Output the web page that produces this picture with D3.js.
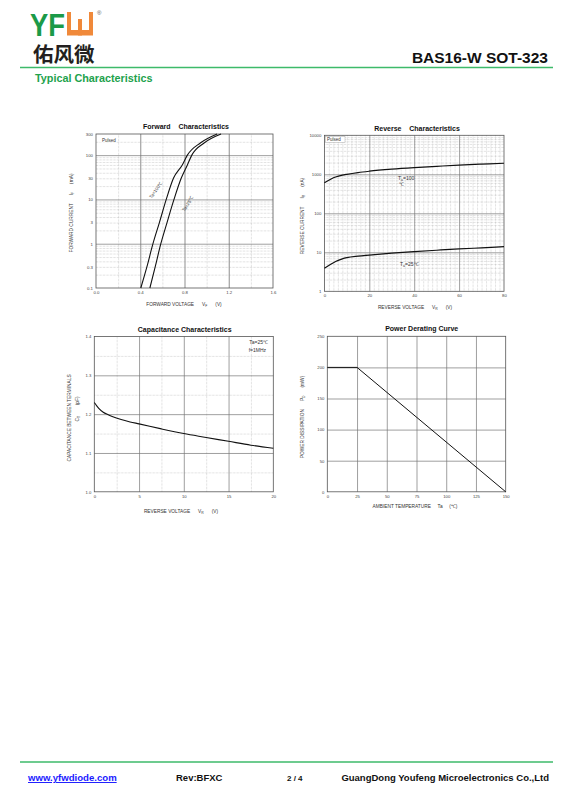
<!DOCTYPE html>
<html lang="en">
<head>
<meta charset="UTF-8" />
<script src="https://d3js.org/d3.v7.min.js"></script>
<title>BAS16-W SOT-323</title>
<style>
body { margin: 0; background: #fff; }
text { font-family: "Liberation Sans", Arial, sans-serif; }
</style>
</head>
<body>
<script>
var width = 570, height = 805;

// forward characteristics: VF (V) vs IF (mA)
var fwdVolt100 = [0.405, 0.46, 0.515, 0.573, 0.635, 0.70, 0.78, 0.826, 0.946, 1.095];
var fwdCurr100 = [0.1, 0.3, 1, 3, 10, 30, 60, 100, 190, 300];
var fwdVolt25 = [0.487, 0.535, 0.586, 0.642, 0.705, 0.77, 0.826, 0.866, 0.98, 1.13];
var fwdCurr25 = [0.1, 0.3, 1, 3, 10, 30, 60, 100, 190, 300];
var fwdXTicks = [0, 0.4, 0.8, 1.2, 1.6];
var fwdYTicks = [0.1, 0.3, 1, 3, 10, 30, 100, 300];

// reverse characteristics: VR (V) vs IR (nA)
var revVolt = [0, 3, 5, 8, 10, 15, 20, 30, 40, 50, 60, 70, 80];
var revCurr100 = [610, 760, 850, 950, 1000, 1110, 1200, 1350, 1480, 1600, 1720, 1820, 1920];
var revCurr25 = [3.9, 5.0, 5.8, 6.8, 7.3, 8.0, 8.5, 9.5, 10.4, 11.3, 12.2, 13.0, 13.9];
var revXTicks = [0, 20, 40, 60, 80];
var revYTicks = [1, 10, 100, 1000, 10000];

// capacitance: VR (V) vs CT (pF)
var capVolt = [0, 0.25, 0.5, 1, 1.5, 2, 3, 4, 5, 7.5, 10, 12.5, 15, 17.5, 20];
var capVal = [1.23, 1.222, 1.215, 1.205, 1.199, 1.194, 1.186, 1.18, 1.175, 1.162, 1.15, 1.14, 1.13, 1.12, 1.112];
var capXTicks = [0, 5, 10, 15, 20];
var capYTicks = [1.0, 1.1, 1.2, 1.3, 1.4];

// power derating: Ta (C) vs PD (mW)
var pwrTemp = [0, 25, 150];
var pwrVal = [200, 200, 0];
var pwrXTicks = [0, 25, 50, 75, 100, 125, 150];
var pwrYTicks = [0, 50, 100, 150, 200, 250];

var FONT = "Liberation Sans, Arial, sans-serif";
var svg = d3.select("body").append("svg").attr("width", width).attr("height", height).style("display", "block");
svg.append("rect").attr("width", width).attr("height", height).attr("fill", "#fff");

// ---------- header ----------
var green = "#22a24c";
svg.append("text").attr("x", 30).attr("y", 35.5).attr("font-size", 32).attr("font-weight", "bold")
  .attr("fill", "#1b9a48").attr("textLength", 35).attr("lengthAdjust", "spacingAndGlyphs").text("YF");
svg.append("rect").attr("x", 67).attr("y", 12).attr("width", 26).attr("height", 23.5).attr("fill", "#f0893a");
svg.append("rect").attr("x", 71).attr("y", 12).attr("width", 18).attr("height", 18).attr("fill", "#fff");
svg.append("rect").attr("x", 78).attr("y", 19).attr("width", 4).attr("height", 16.5).attr("fill", "#f0893a");
svg.append("text").attr("x", 97).attr("y", 15).attr("font-size", 6).attr("fill", "#555").text("\u00ae");
svg.append("text").attr("x", 33).attr("y", 61.5).attr("font-size", 20.5).attr("font-weight", "bold")
  .style("font-family", "'Noto Sans CJK SC', sans-serif").attr("fill", "#231f20").text("佑风微");
svg.append("text").attr("x", 548).attr("y", 63).attr("text-anchor", "end").attr("font-size", 15.5)
  .attr("font-weight", "bold").attr("fill", "#111").text("BAS16-W SOT-323");
svg.append("line").attr("x1", 20).attr("x2", 553).attr("y1", 67.5).attr("y2", 67.5)
  .attr("stroke", "#3dba6a").attr("stroke-width", 1.5);
svg.append("text").attr("x", 35).attr("y", 82).attr("font-size", 10.8).attr("font-weight", "bold")
  .attr("fill", green).text("Typical Characteristics");

// ---------- footer ----------
svg.append("line").attr("x1", 20).attr("x2", 553).attr("y1", 762).attr("y2", 762)
  .attr("stroke", "#3dba6a").attr("stroke-width", 1.5);
svg.append("text").attr("x", 28).attr("y", 781).attr("font-size", 9.6).attr("font-weight", "bold")
  .attr("fill", "#1a1aff").attr("text-decoration", "underline").text("www.yfwdiode.com");
svg.append("text").attr("x", 176).attr("y", 781).attr("font-size", 9.5).attr("font-weight", "bold")
  .attr("fill", "#111").text("Rev:BFXC");
svg.append("text").attr("x", 287).attr("y", 781).attr("font-size", 8).attr("font-weight", "bold")
  .attr("fill", "#111").text("2 / 4");
svg.append("text").attr("x", 549).attr("y", 781).attr("text-anchor", "end").attr("font-size", 9.5)
  .attr("font-weight", "bold").attr("fill", "#111").text("GuangDong Youfeng Microelectronics Co.,Ltd");

// ---------- helpers ----------
function grid(g, x, y, vals, horizontal, style) {
  var axis = horizontal
    ? d3.axisLeft(y).tickValues(vals).tickSize(-(x.range()[1] - x.range()[0])).tickFormat("")
    : d3.axisBottom(x).tickValues(vals).tickSize(-(y.range()[0] - y.range()[1])).tickFormat("");
  var a = g.append("g")
    .attr("transform", horizontal ? "translate(" + x.range()[0] + ",0)" : "translate(0," + y.range()[0] + ")")
    .call(axis);
  a.select(".domain").remove();
  a.selectAll("line").attr("stroke", style.color).attr("stroke-width", style.w)
    .attr("stroke-dasharray", style.dash || null);
}

function labels(g, x, y, xt, xf, yt, yf, fs) {
  var ax = g.append("g").attr("transform", "translate(0," + y.range()[0] + ")")
    .call(d3.axisBottom(x).tickValues(xt).tickFormat(xf).tickSize(0).tickPadding(3));
  var ay = g.append("g").attr("transform", "translate(" + x.range()[0] + ",0)")
    .call(d3.axisLeft(y).tickValues(yt).tickFormat(yf).tickSize(0).tickPadding(3));
  [ax, ay].forEach(function(a) {
    a.select(".domain").remove();
    a.attr("font-size", fs).attr("font-family", FONT).attr("color", "#444");
  });
}

function frame(g, x, y) {
  g.append("rect").attr("x", x.range()[0]).attr("y", y.range()[1])
    .attr("width", x.range()[1] - x.range()[0]).attr("height", y.range()[0] - y.range()[1])
    .attr("fill", "none").attr("stroke", "#555").attr("stroke-width", 0.8);
}

function series(g, x, y, xs, ys, curve, w) {
  g.append("path").datum(d3.zip(xs, ys))
    .attr("d", d3.line().x(function(d) { return x(d[0]); }).y(function(d) { return y(d[1]); }).curve(curve))
    .attr("fill", "none").attr("stroke", "#111").attr("stroke-width", w);
}

function title(g, cx, by, str) {
  g.append("text").attr("x", cx).attr("y", by).attr("text-anchor", "middle").attr("font-size", 7)
    .attr("font-weight", "bold").attr("fill", "#111").style("white-space", "pre").text(str);
}

// parts: [text, sub, back-up]
function axisTitle(g, cx, cy, rot, parts, fs) {
  var t = g.append("text").attr("text-anchor", "middle").attr("font-size", fs).attr("fill", "#333")
    .style("white-space", "pre")
    .attr("transform", "translate(" + cx + "," + cy + ")" + (rot ? " rotate(" + rot + ")" : ""));
  parts.forEach(function(p) {
    var s = t.append("tspan").text(p[0]);
    if (p[1]) s.attr("font-size", fs * 0.7).attr("dy", fs * 0.3);
    else if (p[2]) s.attr("dy", -fs * 0.3);
  });
}

var major = { color: "#777", w: 0.7 };
var minor = { color: "#999", w: 0.45, dash: "0.6,0.8" };
function notIn(arr) { return function(v) { return arr.indexOf(v) < 0; }; }

// ---------- forward ----------
(function() {
  var g = svg.append("g");
  var x = d3.scaleLinear().domain([0, 1.6]).range([96, 273]);
  var y = d3.scaleLog().domain([0.1, 300]).range([288, 134]);
  var yMaj = [1, 10, 100];
  grid(g, x, y, [0.2, 0.6, 1.0, 1.4], false, minor);
  grid(g, x, y, y.ticks().filter(function(v) { return yMaj.indexOf(+v.toPrecision(3)) < 0 && v > 0.1 && v < 300; }), true, minor);
  grid(g, x, y, [0.4, 0.8, 1.2], false, { color: "#999", w: 1.1 });
  grid(g, x, y, yMaj, true, major);
  frame(g, x, y);
  labels(g, x, y, fwdXTicks, d3.format(".1f"), fwdYTicks, function(d) { return String(d); }, 4.3);
  g.append("rect").attr("x", 100).attr("y", 137).attr("width", 16).attr("height", 5.5).attr("fill", "#fff");
  g.append("text").attr("x", 102).attr("y", 141.5).attr("font-size", 4.5).attr("fill", "#333").text("Pulsed");
  series(g, x, y, fwdVolt100, fwdCurr100, d3.curveMonotoneX, 1.1);
  series(g, x, y, fwdVolt25, fwdCurr25, d3.curveMonotoneX, 1.1);
  g.append("text").attr("transform", "translate(157,191) rotate(-55)").attr("text-anchor", "middle")
    .attr("font-size", 4.5).attr("fill", "#333").text("Ta=100\u2103");
  g.append("text").attr("transform", "translate(189,205) rotate(-57)").attr("text-anchor", "middle")
    .attr("font-size", 4.5).attr("fill", "#333").text("Ta=25\u2103");
  title(g, 186, 128.5, "Forward    Characteristics");
  axisTitle(g, 184, 305.5, 0, [["FORWARD VOLTAGE      V"], ["F", 1], ["      (V)", 0, 1]], 4.8);
  axisTitle(g, 73, 213, -90, [["FORWARD CURRENT      I"], ["F", 1], ["      (mA)", 0, 1]], 4.8);
})();

// ---------- reverse ----------
(function() {
  var g = svg.append("g");
  var x = d3.scaleLinear().domain([0, 80]).range([324.4, 504]);
  var y = d3.scaleLog().domain([1, 10000]).range([291.3, 135.3]);
  var xMaj = [20, 40, 60], yMaj = [10, 100, 1000];
  grid(g, x, y, d3.range(2, 80, 2).filter(notIn(xMaj)), false, minor);
  grid(g, x, y, y.ticks().filter(function(v) { return Math.abs(Math.log10(v) % 1) > 1e-6; }), true, minor);
  grid(g, x, y, xMaj, false, major);
  grid(g, x, y, yMaj, true, major);
  frame(g, x, y);
  labels(g, x, y, revXTicks, d3.format("d"), revYTicks, d3.format("d"), 4.3);
  g.append("rect").attr("x", 325.5).attr("y", 136.5).attr("width", 19.5).attr("height", 5.8)
    .attr("fill", "#fff").attr("stroke", "#999").attr("stroke-width", 0.4);
  g.append("text").attr("x", 327).attr("y", 141).attr("font-size", 4.5).attr("fill", "#333").text("Pulsed");
  series(g, x, y, revVolt, revCurr100, d3.curveMonotoneX, 1.2);
  series(g, x, y, revVolt, revCurr25, d3.curveMonotoneX, 1.2);
  var t1 = g.append("text").attr("x", 398).attr("y", 179.5).attr("font-size", 5).attr("fill", "#333");
  t1.append("tspan").text("T");
  t1.append("tspan").attr("font-size", 3.6).attr("dy", 1.3).text("a");
  t1.append("tspan").attr("dy", -1.3).text("=100");
  g.append("text").attr("x", 399).attr("y", 186).attr("font-size", 5).attr("fill", "#333").text("\u2103");
  var t2 = g.append("text").attr("x", 400).attr("y", 265.5).attr("font-size", 5).attr("fill", "#333");
  t2.append("tspan").text("T");
  t2.append("tspan").attr("font-size", 3.6).attr("dy", 1.3).text("a");
  t2.append("tspan").attr("dy", -1.3).text("=25\u2103");
  title(g, 417, 131, "Reverse    Characteristics");
  axisTitle(g, 415, 308.5, 0, [["REVERSE VOLTAGE      V"], ["R", 1], ["      (V)", 0, 1]], 4.8);
  axisTitle(g, 303.5, 216, -90, [["REVERSE CURRENT      I"], ["R", 1], ["      (nA)", 0, 1]], 4.8);
})();

// ---------- capacitance ----------
(function() {
  var g = svg.append("g");
  var x = d3.scaleLinear().domain([0, 20]).range([94.3, 273.3]);
  var y = d3.scaleLinear().domain([1.0, 1.4]).range([491.8, 336.5]);
  grid(g, x, y, [2.5, 7.5, 12.5, 17.5], false, minor);
  grid(g, x, y, [1.05, 1.15, 1.25, 1.35], true, minor);
  grid(g, x, y, [5, 10, 15], false, major);
  grid(g, x, y, [1.1, 1.2, 1.3], true, major);
  frame(g, x, y);
  labels(g, x, y, capXTicks, d3.format("d"), capYTicks, d3.format(".1f"), 4.2);
  series(g, x, y, capVolt, capVal, d3.curveMonotoneX, 1.1);
  g.append("text").attr("x", 268).attr("y", 344).attr("text-anchor", "end").attr("font-size", 5)
    .attr("fill", "#333").text("Ta=25\u2103");
  g.append("text").attr("x", 266).attr("y", 351.5).attr("text-anchor", "end").attr("font-size", 5)
    .attr("fill", "#333").text("f=1MHz");
  title(g, 184.7, 331.5, "Capacitance Characteristics");
  axisTitle(g, 181, 512.5, 0, [["REVERSE VOLTAGE      V"], ["R", 1], ["      (V)", 0, 1]], 4.8);
  axisTitle(g, 70.5, 418, -90, [["CAPACITANCE BETWEEN TERMINALS"]], 4.8);
  axisTitle(g, 79, 409, -90, [["C"], ["T", 1], ["        (pF)", 0, 1]], 4.8);
})();

// ---------- power derating ----------
(function() {
  var g = svg.append("g");
  var x = d3.scaleLinear().domain([0, 150]).range([327.3, 505.7]);
  var y = d3.scaleLinear().domain([0, 250]).range([491.8, 336.3]);
  grid(g, x, y, [25, 50, 75, 100, 125], false, major);
  grid(g, x, y, [50, 100, 150, 200], true, major);
  frame(g, x, y);
  labels(g, x, y, pwrXTicks, d3.format("d"), pwrYTicks, d3.format("d"), 4.2);
  series(g, x, y, pwrTemp, pwrVal, d3.curveLinear, 1);
  title(g, 421.7, 330.5, "Power Derating Curve");
  axisTitle(g, 415, 507.5, 0, [["AMBIENT TEMPERATURE     Ta     (\u2103)"]], 4.8);
  axisTitle(g, 303.5, 417, -90, [["POWER DISSIPATION      P"], ["D", 1], ["      (mW)", 0, 1]], 4.8);
})();
</script>
</body>
</html>
